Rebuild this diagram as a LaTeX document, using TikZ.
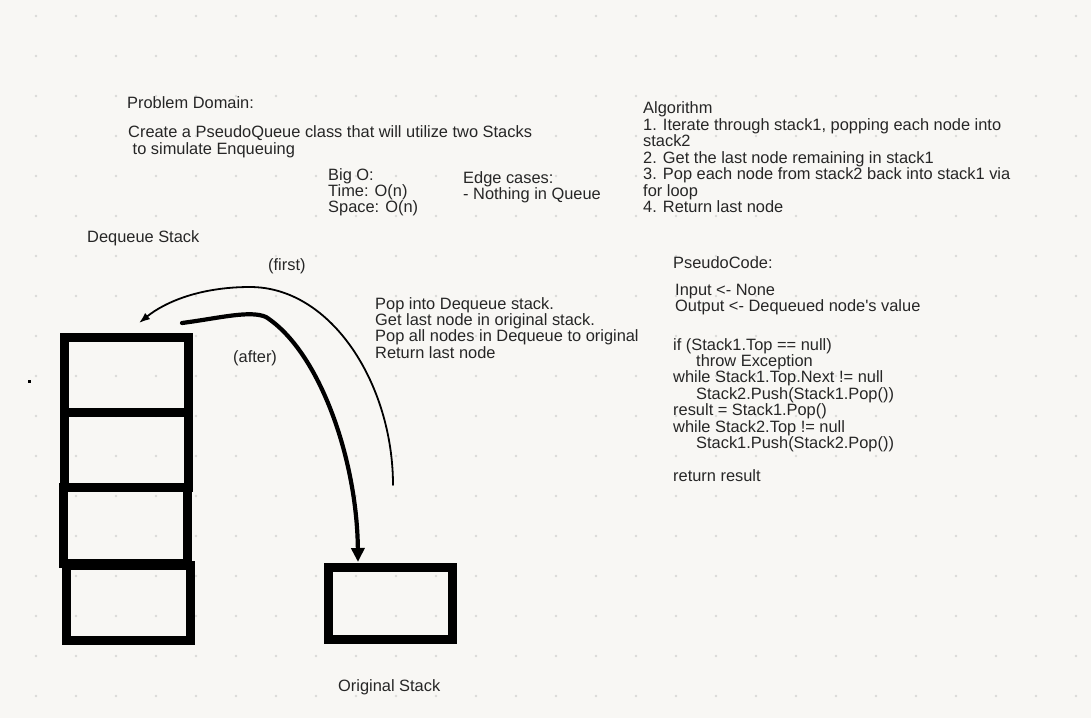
\documentclass[tikz,border=0pt]{standalone}
\usepackage{fontspec}
\setmainfont{Liberation Sans}
\usetikzlibrary{arrows.meta}
\definecolor{paper}{RGB}{248,247,244}
\definecolor{griddot}{RGB}{218,218,216}
\definecolor{ink}{RGB}{38,38,38}

\begin{document}
\begin{tikzpicture}[x=1pt,y=-1pt,
		txt/.style={anchor=base west,inner sep=0pt,text=ink,font=\fontsize{16.4}{16.1}\selectfont},
		stk/.style={draw,line width=9pt,minimum width=124pt,inner sep=0pt}]
		\useasboundingbox[fill=paper] (0,0) rectangle (1091,718);
		%% dot grid
		\foreach \i in {0, ..., 26} {
			\foreach \j in {0, ..., 17} {
				\fill[griddot] (36+40*\i, 16+40*\j) circle (1.3pt);
			}
		}
		\fill[black] (28,380) rectangle (31,383);
		%% stacks
		\node[stk,minimum height=74.5pt] (deq1) at (126.5,374.75) {};
		\node[stk,minimum height=75pt] (deq2) at (126.5,449.5) {};
		\node[stk,minimum height=76pt] (deq3) at (125.5,525) {};
		\node[stk,minimum height=75pt] (deq4) at (128,602.5) {};
		\node[stk,minimum height=72pt] (orig) at (390,603) {};
		\node[txt] (deqlabel) at (87,242) {Dequeue Stack};
		\node[txt] (origlabel) at (338,691) {Original Stack};
		%% arrows
		\coordinate (firststart) at (393,485);
		\coordinate (firsttop) at (250,287);
		\coordinate (firstend) at (139,323);
		\draw[line width=1.8pt,line cap=round,line join=round,-{Latex[length=11pt,width=8pt]}]
			(firststart) .. controls (393,385) and (332,287) .. (firsttop)
			.. controls (200,287) and (165,302) .. (firstend);
		\coordinate (afterstart) at (182,323);
		\coordinate (afterbend) at (266,317);
		\coordinate (afterend) at (358,562);
		\draw[line width=4.2pt,line cap=round,line join=round,-{Triangle[length=14pt,width=13pt]}]
			(afterstart) .. controls (220,318) and (250,310) .. (afterbend)
			.. controls (320,352) and (357,460) .. (afterend);
		\node[txt] (firstlabel) at (268,270) {(first)};
		\node[txt] (afterlabel) at (233,362) {(after)};
		\foreach \t [count=\k from 0] in {{Pop into Dequeue stack.}, {Get last node in original stack.},
				{Pop all nodes in Dequeue to original}, {Return last node}}
			\node[txt] (steps\k) at (375, 309+16.4*\k) {\t};
		%% notes
		\node[txt] (domain) at (127,108) {Problem Domain:};
		\node[txt] (problem0) at (128,137.5) {Create a PseudoQueue class that will utilize two Stacks};
		\node[txt] (problem1) at (132.5,154.3) {to simulate Enqueuing};
		\foreach \t [count=\k from 0] in {{Big O:}, {Time: O(n)}, {Space: O(n)}}
			\node[txt] (bigo\k) at (328, 180+16.2*\k) {\t};
		\foreach \t [count=\k from 0] in {{Edge cases:}, {- Nothing in Queue}}
			\node[txt] (edge\k) at (463, 183.5+16.2*\k) {\t};
		\foreach \t [count=\k from 0] in {{Algorithm}, {1. Iterate through stack1, popping each node into},
				{stack2}, {2. Get the last node remaining in stack1},
				{3. Pop each node from stack2 back into stack1 via}, {for loop}, {4. Return last node}}
			\node[txt] (algo\k) at (643, 113.5+16.5*\k) {\t};
		%% pseudocode
		\node[txt] (pseudo) at (673,268.5) {PseudoCode:};
		\node[txt] (input) at (675,295.5) {Input <- None};
		\node[txt] (output) at (675,311.5) {Output <- Dequeued node\textquotesingle s value};
		\foreach \dx/\t [count=\k from 0] in {0/{if (Stack1.Top == null)}, 23/{throw Exception},
				0/{while Stack1.Top.Next != null}, 23/{Stack2.Push(Stack1.Pop())},
				0/{result = Stack1.Pop()}, 0/{while Stack2.Top != null}, 23/{Stack1.Push(Stack2.Pop())}}
			\node[txt] (code\k) at (673+\dx, 350+16.4*\k) {\t};
		\node[txt] (ret) at (673,481) {return result};
	\end{tikzpicture}
\end{document}
